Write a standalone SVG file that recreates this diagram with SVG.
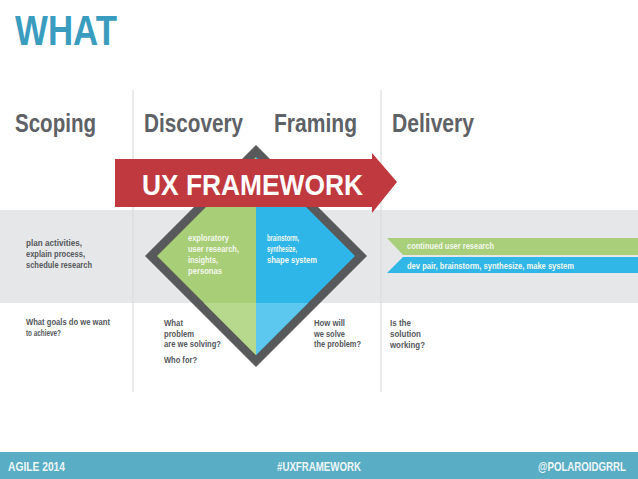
<svg xmlns="http://www.w3.org/2000/svg" width="638" height="479" viewBox="0 0 638 479">
<style>
.b{font-family:"Liberation Sans",Arial,sans-serif;font-weight:bold}
.hd{font-size:26px;fill:#5e6165}
.sm{font-size:9.5px;fill:#55585c}
.wt{font-size:9.5px;fill:#f4f8ef}
.ft{font-size:12.5px;fill:#eef7fa}
.vl{stroke:#dcdddf;stroke-width:1.2}
</style>
<rect width="638" height="479" fill="#ffffff"/>
<text class="b" x="15" y="45" font-size="43" fill="#3a9dc0" textLength="102" lengthAdjust="spacingAndGlyphs">WHAT</text>
<g id="headers">
<text class="b hd" x="15" y="132" textLength="81" lengthAdjust="spacingAndGlyphs">Scoping</text>
<text class="b hd" x="144" y="132" textLength="99" lengthAdjust="spacingAndGlyphs">Discovery</text>
<text class="b hd" x="274" y="132" textLength="83" lengthAdjust="spacingAndGlyphs">Framing</text>
<text class="b hd" x="392" y="132" textLength="82" lengthAdjust="spacingAndGlyphs">Delivery</text>
</g>
<rect x="0" y="210" width="638" height="93" fill="#e6e7e8"/>
<g id="dividers">
<line class="vl" x1="133" y1="90" x2="133" y2="392"/>
<line class="vl" x1="381" y1="90" x2="381" y2="392"/>
</g>
<g id="scoping">
<text class="b sm" x="26" y="246" textLength="56" lengthAdjust="spacingAndGlyphs">plan activities,</text>
<text class="b sm" x="26" y="257" textLength="59" lengthAdjust="spacingAndGlyphs">explain process,</text>
<text class="b sm" x="26" y="268" textLength="66" lengthAdjust="spacingAndGlyphs">schedule research</text>
<text class="b sm" x="26" y="325" textLength="84" lengthAdjust="spacingAndGlyphs">What goals do we want</text>
<text class="b sm" x="26" y="336" textLength="35" lengthAdjust="spacingAndGlyphs">to achieve?</text>
</g>
<g id="diamond">
<polygon points="256,145 367,256 256,367 145,256" fill="#58595b"/>
<polygon points="256,157 157,256 256,355" fill="#a8cf77"/>
<polygon points="256,157 355,256 256,355" fill="#2fb6e8"/>
<polygon points="204,303 256,303 256,355" fill="#b6d98d"/>
<polygon points="256,303 308,303 256,355" fill="#5cc7ef"/>
<text class="b wt" x="188" y="241" textLength="41" lengthAdjust="spacingAndGlyphs">exploratory</text>
<text class="b wt" x="188" y="252" textLength="51" lengthAdjust="spacingAndGlyphs">user research,</text>
<text class="b wt" x="188" y="263" textLength="30" lengthAdjust="spacingAndGlyphs">insights,</text>
<text class="b wt" x="188" y="274" textLength="34" lengthAdjust="spacingAndGlyphs">personas</text>
<text class="b wt" x="267" y="241" textLength="32" lengthAdjust="spacingAndGlyphs">brainstorm,</text>
<text class="b wt" x="267" y="252" textLength="30" lengthAdjust="spacingAndGlyphs">synthesize,</text>
<text class="b wt" x="267" y="263" textLength="50" lengthAdjust="spacingAndGlyphs">shape system</text>
</g>
<g id="arrow">
<polygon points="115,159 372,159 372,153 397,182 372,213 372,207 115,207" fill="#c0393f"/>
<text class="b" x="142" y="195" font-size="30" fill="#ffffff" textLength="221" lengthAdjust="spacingAndGlyphs">UX FRAMEWORK</text>
</g>
<g id="questions">
<text class="b sm" x="164" y="326" textLength="19" lengthAdjust="spacingAndGlyphs">What</text>
<text class="b sm" x="164" y="337" textLength="30" lengthAdjust="spacingAndGlyphs">problem</text>
<text class="b sm" x="164" y="347" textLength="57" lengthAdjust="spacingAndGlyphs">are we solving?</text>
<text class="b sm" x="164" y="363" textLength="33" lengthAdjust="spacingAndGlyphs">Who for?</text>
<text class="b sm" x="314" y="326" textLength="31" lengthAdjust="spacingAndGlyphs">How will</text>
<text class="b sm" x="314" y="337" textLength="31" lengthAdjust="spacingAndGlyphs">we solve</text>
<text class="b sm" x="314" y="347" textLength="47" lengthAdjust="spacingAndGlyphs">the problem?</text>
<text class="b sm" x="390" y="326" textLength="21" lengthAdjust="spacingAndGlyphs">Is the</text>
<text class="b sm" x="390" y="337" textLength="31" lengthAdjust="spacingAndGlyphs">solution</text>
<text class="b sm" x="390" y="348" textLength="35" lengthAdjust="spacingAndGlyphs">working?</text>
</g>
<g id="delivery">
<polygon points="387,238 638,238 638,255 403,255" fill="#a9cf7a"/>
<polygon points="403,257 638,257 638,273 387,273" fill="#30b7e8"/>
<text class="b wt" x="407" y="249" textLength="87" lengthAdjust="spacingAndGlyphs">continued user research</text>
<text class="b wt" x="407" y="269" fill="#ffffff" textLength="167" lengthAdjust="spacingAndGlyphs">dev pair, brainstorm, synthesize, make system</text>
</g>
<g id="footer">
<rect x="0" y="452" width="638" height="27" fill="#59adc4"/>
<text class="b ft" x="8" y="471" textLength="57" lengthAdjust="spacingAndGlyphs">AGILE 2014</text>
<text class="b ft" x="277" y="471" textLength="84" lengthAdjust="spacingAndGlyphs">#UXFRAMEWORK</text>
<text class="b ft" transform="translate(538,471) scale(0.775,1)" x="0" y="0">@POLAROIDGRRL</text>
</g>
</svg>
